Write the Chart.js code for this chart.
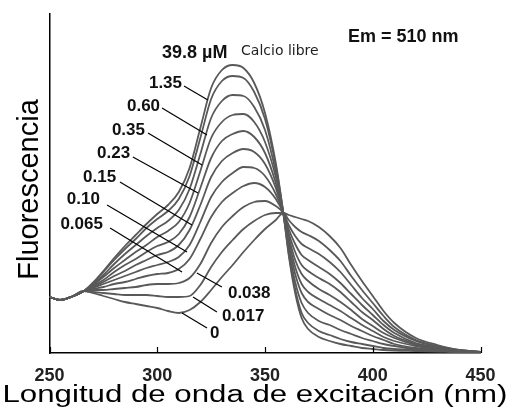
<!DOCTYPE html>
<html lang="es">
<head>
    <meta charset="UTF-8">
    <title>Espectro de excitación</title>
    <script src="https://cdn.jsdelivr.net/npm/chart.js"></script>
    <style>
        body { margin: 0; background: #fff; }
        canvas { display: block; }
    </style>
</head>
<body>
    <canvas id="spectrumChart" width="512" height="418"></canvas>

    <script>
        // excitation wavelength (nm)
        const wavelengths = [250, 255, 260, 266, 270, 275, 280, 285, 290, 295, 300, 305, 310, 315, 320, 325, 330, 335, 340, 345, 350, 355, 358.5, 361, 364, 367, 370, 375, 380, 385, 390, 395, 400, 405, 410, 420, 430, 440, 450];

        // fluorescence (arbitrary units), one array per free calcium level
        const ca398 = [56, 53, 56, 62, 70, 82, 95, 107, 118, 129, 139, 148, 161, 185, 225, 265, 283, 288, 285, 270, 240, 190, 140, 98, 60, 35, 24, 16, 12, 9, 7, 5, 4, 3, 2.5, 2, 1.5, 1, 1];
        const ca135 = [56, 53, 56, 62, 69, 81, 93, 104, 114, 125, 134, 142, 154, 177, 215, 254, 272, 277, 275, 261, 234, 187, 140, 100, 64, 40, 30, 22, 18, 14, 11, 9, 7, 5, 4, 3, 2, 1, 1];
        const ca060 = [56, 53, 56, 62, 68, 78, 89, 99, 108, 117, 125, 132, 143, 164, 199, 235, 252, 258, 257, 246, 223, 181, 140, 104, 71, 50, 40, 32, 28, 23, 19, 15, 12, 9, 7, 4, 3, 1, 1];
        const ca035 = [56, 53, 56, 62, 68, 76, 85, 93, 101, 108, 116, 122, 131, 150, 182, 215, 231, 238, 239, 231, 211, 176, 140, 108, 79, 60, 51, 44, 38, 33, 27, 22, 17, 13, 9, 5, 3, 2, 1];
        const ca023 = [56, 53, 56, 62, 67, 73, 81, 88, 94, 101, 107, 111, 119, 136, 165, 195, 212, 219, 222, 216, 200, 170, 140, 112, 86, 69, 61, 54, 48, 42, 35, 28, 22, 16, 12, 7, 4, 2, 1];
        const ca015 = [56, 53, 56, 62, 66, 71, 77, 82, 88, 93, 98, 101, 108, 123, 148, 176, 192, 200, 204, 201, 189, 165, 140, 116, 93, 79, 72, 64, 58, 51, 43, 34, 27, 20, 15, 8, 4, 2, 1];
        const ca010 = [56, 53, 56, 62, 65, 69, 73, 77, 81, 85, 88, 91, 96, 108, 131, 156, 171, 180, 186, 185, 177, 159, 140, 120, 101, 88, 82, 75, 69, 61, 51, 41, 33, 24, 17, 9, 5, 2, 1];
        const ca0065 = [56, 53, 56, 62, 64, 66, 69, 71, 74, 77, 79, 80, 84, 94, 114, 136, 151, 160, 167, 170, 166, 154, 140, 124, 109, 98, 93, 86, 79, 70, 59, 48, 38, 28, 20, 10, 6, 2, 1];
        const ca0038 = [56, 53, 56, 62, 63, 63, 64, 65, 66, 68, 69, 69, 70, 75, 89, 110, 126, 137, 146, 151, 152, 147, 140, 128, 117, 109, 105, 99, 91, 81, 68, 55, 44, 32, 23, 12, 6, 3, 1];
        const ca0017 = [56, 53, 56, 62, 61, 60, 59, 58, 58, 58, 57, 56, 56, 57, 68, 86, 101, 113, 124, 132, 138, 140, 140, 133, 126, 121, 118, 112, 103, 92, 77, 63, 50, 37, 26, 13, 7, 3, 1];
        const ca0 = [56, 53, 56, 62, 60, 57, 54, 51, 49, 47, 45, 42, 40, 43, 51, 63, 76, 88, 101, 113, 124, 133, 140, 138, 136, 134, 132, 126, 117, 105, 88, 72, 57, 42, 30, 15, 8, 3, 1];

        const seriesLabels = ['39.8', '1.35', '0.60', '0.35', '0.23', '0.15', '0.10', '0.065', '0.038', '0.017', '0'];
        const seriesValues = [ca398, ca135, ca060, ca035, ca023, ca015, ca010, ca0065, ca0038, ca0017, ca0];
        const xTicks = [250, 300, 350, 400, 450];

        const xTitle = 'Longitud de onda de excitación (nm)';
        const yTitle = 'Fluorescencia';

        // leader labels: text anchor + line ends, all in data units (nm, fluorescence)
        const leaderNotes = [
            { text: '1.35', at: [311.5, 270], align: 'right', from: [312.4, 267], to: [323.5, 253] },
            { text: '0.60', at: [301.3, 247], align: 'right', from: [302.2, 245], to: [323.1, 218] },
            { text: '0.35', at: [294.3, 223], align: 'right', from: [295.7, 220], to: [320.8, 188] },
            { text: '0.23', at: [287.4, 200], align: 'right', from: [288.7, 196], to: [318.9, 160] },
            { text: '0.15', at: [280.9, 176], align: 'right', from: [282.7, 171], to: [316.1, 128] },
            { text: '0.10', at: [273.4, 154], align: 'right', from: [276.7, 148], to: [313.8, 101] },
            { text: '0.065', at: [274.8, 129], align: 'right', from: [278.1, 125], to: [311.5, 81] },
            { text: '0.038', at: [332.8, 60], align: 'left', from: [318.4, 80], to: [330.0, 66] },
            { text: '0.017', at: [330.0, 37], align: 'left', from: [316.6, 56], to: [327.7, 41] },
            { text: '0', at: [324.5, 20], align: 'left', from: [311.5, 40], to: [323.1, 25] }
        ];

        const notesPlugin = {
            id: 'notes',
            afterDatasetsDraw(chart) {
                const ctx = chart.ctx;
                const xs = chart.scales.x;
                const ys = chart.scales.y;
                const px = v => xs.getPixelForValue(v);
                const py = v => ys.getPixelForValue(v);
                const area = chart.chartArea;

                ctx.save();
                // inward tick marks on the x axis
                ctx.strokeStyle = '#000';
                ctx.lineWidth = 1.2;
                xs.ticks.forEach(t => {
                    const x = Math.round(xs.getPixelForValue(t.value)) + 0.5;
                    ctx.beginPath();
                    ctx.moveTo(x, area.bottom);
                    ctx.lineTo(x, area.bottom - 6);
                    ctx.stroke();
                });

                // leader lines
                leaderNotes.forEach(n => {
                    ctx.beginPath();
                    ctx.moveTo(px(n.from[0]), py(n.from[1]));
                    ctx.lineTo(px(n.to[0]), py(n.to[1]));
                    ctx.stroke();
                });

                ctx.fillStyle = '#111';
                ctx.font = 'bold 17px "Liberation Sans", Arial, sans-serif';
                ctx.textBaseline = 'middle';
                leaderNotes.forEach(n => {
                    ctx.textAlign = n.align;
                    ctx.fillText(n.text, px(n.at[0]), py(n.at[1]));
                });

                ctx.textBaseline = 'alphabetic';
                ctx.textAlign = 'left';
                ctx.font = 'bold 18px "Liberation Sans", Arial, sans-serif';
                ctx.fillText(seriesLabels[0] + ' µM', px(302.2), py(295));
                ctx.fillText('Em = 510 nm', px(388.5), py(311));
                ctx.font = '14px "DejaVu Sans", sans-serif';
                ctx.fillStyle = '#222';
                ctx.fillText('Calcio libre', px(338.9), py(298));

                // axis titles (the x title is wider than the plot, so drawn here)
                ctx.fillStyle = '#000';
                ctx.textAlign = 'center';
                ctx.font = '23px "Liberation Sans", Arial, sans-serif';
                const sx = 505 / ctx.measureText(xTitle).width;
                ctx.save();
                ctx.translate(255, area.bottom + 49);
                ctx.scale(sx, 1);
                ctx.fillText(xTitle, 0, 0);
                ctx.restore();

                ctx.translate(38, (area.top + area.bottom) / 2 + 6);
                ctx.rotate(-Math.PI / 2);
                ctx.font = '29px "Liberation Sans", Arial, sans-serif';
                ctx.fillText(yTitle, 0, 0);
                ctx.restore();
            }
        };

        const datasets = seriesValues.map((vals, i) => ({
            label: seriesLabels[i],
            data: wavelengths.map((w, j) => ({ x: w, y: vals[j] })),
            borderColor: '#595959',
            borderWidth: 1.8,
            pointRadius: 0,
            fill: false,
            cubicInterpolationMode: 'monotone'
        }));

        new Chart(document.getElementById('spectrumChart'), {
            type: 'line',
            data: { datasets: datasets },
            options: {
                responsive: false,
                animation: false,
                layout: { padding: { top: 14, right: 31.5, left: 0, bottom: 0 } },
                plugins: {
                    legend: { display: false },
                    tooltip: { enabled: false }
                },
                scales: {
                    x: {
                        type: 'linear',
                        min: 250,
                        max: 450,
                        afterBuildTicks: s => { s.ticks = xTicks.map(v => ({ value: v })); },
                        afterFit: s => { s.height = 65; },
                        ticks: {
                            padding: 12,
                            color: '#222',
                            font: { family: '"Liberation Sans", Arial, sans-serif', size: 18, weight: 'bold' }
                        },
                        grid: { display: false, drawTicks: false },
                        border: { color: '#000', width: 1.5 }
                    },
                    y: {
                        min: 0,
                        max: 339,
                        afterFit: s => { s.width = 49.5; },
                        ticks: { display: false },
                        grid: { display: false, drawTicks: false },
                        border: { color: '#000', width: 1.5 }
                    }
                }
            },
            plugins: [notesPlugin]
        });
    </script>
</body>
</html>
